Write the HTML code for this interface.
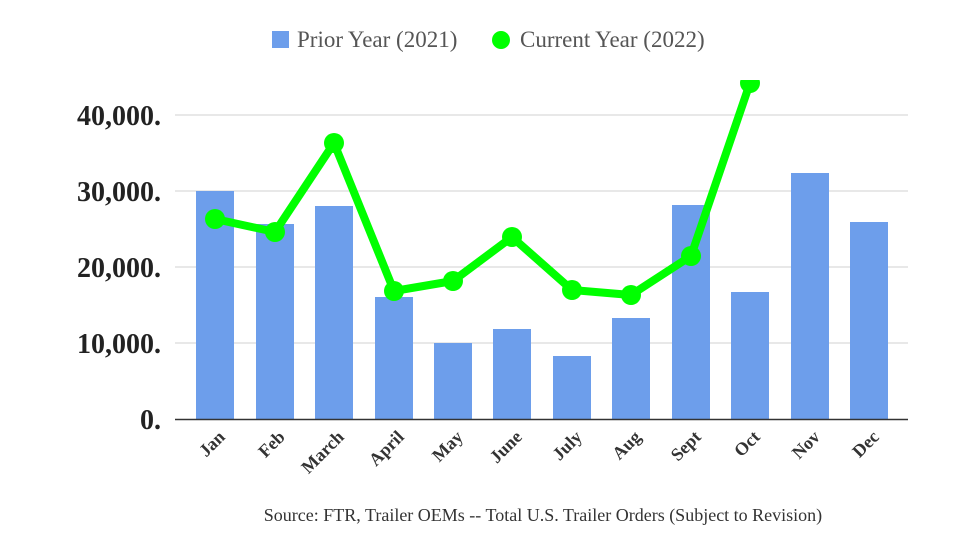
<!DOCTYPE html>
<html><head><style>body{margin:0;background:#fff}svg{display:block}</style></head><body>
<svg width="980" height="552" xmlns="http://www.w3.org/2000/svg">
<rect width="980" height="552" fill="#fff"/>
<g stroke="#d0d0d0" stroke-width="1">
<line x1="175" y1="115" x2="908" y2="115"/>
<line x1="175" y1="191" x2="908" y2="191"/>
<line x1="175" y1="267" x2="908" y2="267"/>
<line x1="175" y1="343" x2="908" y2="343"/>
</g>
<g font-family="Liberation Serif, serif" font-weight="bold" font-size="28" fill="#222" text-anchor="end">
<text x="161" y="125">40,000.</text>
<text x="161" y="201">30,000.</text>
<text x="161" y="277">20,000.</text>
<text x="161" y="353">10,000.</text>
<text x="161" y="429">0.</text>
</g>
<g fill="#6d9eeb">
<rect x="196" y="191" width="38" height="228"/>
<rect x="256" y="224" width="38" height="195"/>
<rect x="315" y="206" width="38" height="213"/>
<rect x="375" y="297" width="38" height="122"/>
<rect x="434" y="343" width="38" height="76"/>
<rect x="493" y="329" width="38" height="90"/>
<rect x="553" y="356" width="38" height="63"/>
<rect x="612" y="318" width="38" height="101"/>
<rect x="672" y="205" width="38" height="214"/>
<rect x="731" y="292" width="38" height="127"/>
<rect x="791" y="173" width="38" height="246"/>
<rect x="850" y="222" width="38" height="197"/>
</g>
<line x1="175" y1="419.5" x2="908" y2="419.5" stroke="#333" stroke-width="1.5"/>
<defs><clipPath id="c"><rect x="0" y="80" width="980" height="400"/></clipPath></defs>
<g clip-path="url(#c)">
<polyline fill="none" stroke="#00ff00" stroke-width="8" stroke-linejoin="round" points="215,219 275,232 334,143 394,291 453,281 512,237 572,290 631,295 691,256 750,83"/>
<g fill="#00ff00">
<circle cx="215" cy="219" r="10"/><circle cx="275" cy="232" r="10"/><circle cx="334" cy="143" r="10"/><circle cx="394" cy="291" r="10"/><circle cx="453" cy="281" r="10"/><circle cx="512" cy="237" r="10"/><circle cx="572" cy="290" r="10"/><circle cx="631" cy="295" r="10"/><circle cx="691" cy="256" r="10"/><circle cx="750" cy="83" r="10"/>
</g></g>
<g font-family="Liberation Serif, serif" font-weight="bold" font-size="18" fill="#333" text-anchor="end">
<text transform="translate(226,438) rotate(-45)">Jan</text>
<text transform="translate(286,438) rotate(-45)">Feb</text>
<text transform="translate(345,438) rotate(-45)">March</text>
<text transform="translate(405,438) rotate(-45)">April</text>
<text transform="translate(464,438) rotate(-45)">May</text>
<text transform="translate(523,438) rotate(-45)">June</text>
<text transform="translate(583,438) rotate(-45)">July</text>
<text transform="translate(642,438) rotate(-45)">Aug</text>
<text transform="translate(702,438) rotate(-45)">Sept</text>
<text transform="translate(761,438) rotate(-45)">Oct</text>
<text transform="translate(821,438) rotate(-45)">Nov</text>
<text transform="translate(880,438) rotate(-45)">Dec</text>
</g>
<rect x="272" y="31" width="17" height="17" fill="#6d9eeb"/>
<text x="297" y="47" font-family="Liberation Serif, serif" font-size="23" fill="#555">Prior Year (2021)</text>
<circle cx="501" cy="40" r="9" fill="#00ff00"/>
<text x="520" y="47" font-family="Liberation Serif, serif" font-size="23" fill="#555">Current Year (2022)</text>
<text x="543" y="521" text-anchor="middle" font-family="Liberation Serif, serif" font-size="18" fill="#333">Source: FTR, Trailer OEMs -- Total U.S. Trailer Orders (Subject to Revision)</text>
</svg>
</body></html>
